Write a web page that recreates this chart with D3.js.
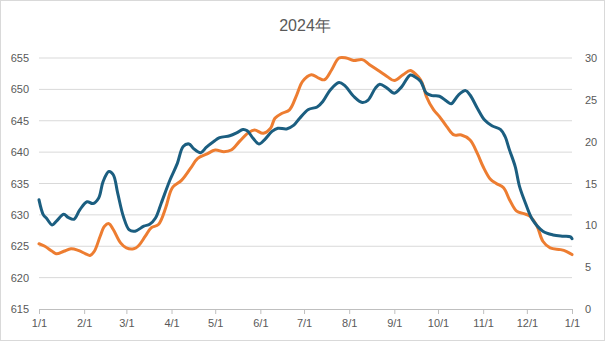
<!DOCTYPE html>
<html><head><meta charset="utf-8">
<script src="https://cdn.jsdelivr.net/npm/d3@7"></script>
<style>body{margin:0;background:#fff}svg{display:block;font-family:"Liberation Sans",Arial,sans-serif}</style>
</head><body><svg id="c" width="606" height="341"></svg>
<script>
const title = "2024年";
const tickLabels = ["1/1","2/1","3/1","4/1","5/1","6/1","7/1","8/1","9/1","10/1","11/1","12/1","1/1"];
const leftTicks = [615,620,625,630,635,640,645,650,655];
const rightTicks = [0,5,10,15,20,25,30];
// day offsets from 2024-01-01
const blueDays = [0,3,5,9,12,17,20,24,28,33,37,41,44,48,51,54,58,62,66,72,76,80,84,90,95,99,103,106,111,115,120,124,131,136,140,143,147,151,155,160,164,170,175,179,185,191,195,200,206,210,216,222,226,231,234,239,244,249,255,258,262,266,270,275,280,283,288,293,296,301,306,311,317,320,323,327,330,334,339,346,353,360,365,366];
const blueValues = [632.4,630.0,629.5,628.4,629.0,630.1,629.6,629.3,630.8,632.1,631.8,632.7,635.3,636.9,636.4,633.5,629.7,627.6,627.4,628.2,628.5,629.5,631.9,635.6,638.2,640.9,641.3,640.6,639.9,640.8,641.7,642.3,642.6,643.1,643.6,643.4,642.2,641.3,642.0,643.3,643.8,643.7,644.3,645.4,646.8,647.2,648.1,649.9,651.1,650.6,648.9,647.9,648.3,650.2,650.8,650.2,649.4,650.4,652.3,652.0,651.3,649.4,649.0,648.9,648.1,647.7,649.1,649.8,649.1,647.0,645.1,644.2,643.6,642.5,640.4,637.7,634.5,631.9,629.2,627.4,626.8,626.6,626.5,626.2];
const orangeDays = [0,4,9,12,17,22,27,32,35,38,42,45,48,51,56,60,65,68,73,77,82,87,90,92,98,104,109,115,121,127,132,138,144,148,154,159,162,167,172,177,181,187,192,196,201,206,211,216,222,227,233,239,244,250,255,259,262,264,266,271,275,280,285,290,296,301,305,310,314,319,323,328,333,337,342,346,351,358,362,366];
const orangeValues = [7.8,7.5,6.9,6.6,6.9,7.2,7.0,6.6,6.4,6.9,8.7,9.9,10.2,9.5,7.9,7.3,7.2,7.5,8.7,9.7,10.1,12.1,13.9,14.6,15.4,16.8,18.0,18.5,19.0,18.8,19.0,20.1,21.1,21.4,21.0,21.6,22.8,23.4,23.8,25.6,27.2,28.0,27.6,27.4,28.6,30.0,30.0,29.7,29.8,29.2,28.5,27.8,27.3,28.0,28.5,28.0,27.4,26.6,25.4,23.8,23.0,21.8,20.8,20.8,20.2,18.6,17.0,15.5,15.0,14.5,13.1,11.7,11.4,11.1,9.9,8.1,7.3,7.1,6.9,6.5];

const svg = d3.select("#c");
const W=606,H=341, L=39, R=572, T=58, B=309;
const start = new Date(2024,0,1), end = new Date(2025,0,1);
const x = d3.scaleTime().domain([start,end]).range([L,R]);
const yL = d3.scaleLinear().domain([615,655]).range([B,T]);
const yR = d3.scaleLinear().domain([0,30]).range([B,T]);
const dayDate = d => d3.timeDay.offset(start, d);
const txt = "#595959";

svg.append("rect").attr("x",0.5).attr("y",0.5).attr("width",W-2).attr("height",H-1).attr("fill","#fff").attr("stroke","#d9d9d9");

svg.append("text").attr("x",305).attr("y",31).attr("text-anchor","middle").attr("font-size",16).attr("fill",txt).text(title);

// gridlines
svg.append("g").selectAll("line").data(leftTicks.filter(v=>v>615)).join("line")
  .attr("x1",L).attr("x2",R).attr("y1",d=>yL(d)).attr("y2",d=>yL(d)).attr("stroke","#d9d9d9").attr("stroke-width",1);

// left axis labels
const gl = svg.append("g").attr("transform",`translate(${L},0)`)
  .call(d3.axisLeft(yL).tickValues(leftTicks).tickSize(0).tickPadding(10));
gl.select(".domain").remove();
gl.selectAll("text").attr("font-size",11).attr("fill",txt).attr("font-family","Liberation Sans, Arial, sans-serif");

const gr = svg.append("g").attr("transform",`translate(${R},0)`)
  .call(d3.axisRight(yR).tickValues(rightTicks).tickSize(0).tickPadding(13));
gr.select(".domain").remove();
gr.selectAll("text").attr("font-size",11).attr("fill",txt).attr("font-family","Liberation Sans, Arial, sans-serif");

// bottom axis
const months = d3.timeMonth.range(start, d3.timeDay.offset(end,1));
const gb = svg.append("g").attr("transform",`translate(0,${B})`)
  .call(d3.axisBottom(x).tickValues(months).tickSize(5).tickPadding(5).tickFormat((d,i)=>tickLabels[i]));
gb.select(".domain").attr("stroke","#bfbfbf").attr("d",`M${L},0.5H${R}`);
gb.selectAll(".tick line").attr("stroke","#bfbfbf");
gb.selectAll("text").attr("font-size",11).attr("fill",txt).attr("font-family","Liberation Sans, Arial, sans-serif");

const lineB = d3.line().x((d,i)=>x(dayDate(blueDays[i]))).y(d=>yL(d)).curve(d3.curveCatmullRom.alpha(0.5));
const lineO = d3.line().x((d,i)=>x(dayDate(orangeDays[i]))).y(d=>yR(d)).curve(d3.curveCatmullRom.alpha(0.5));

svg.append("path").attr("d",lineO(orangeValues)).attr("fill","none").attr("stroke","#ed7d31").attr("stroke-width",3).attr("stroke-linejoin","round").attr("stroke-linecap","round");
svg.append("path").attr("d",lineB(blueValues)).attr("fill","none").attr("stroke","#1b5e80").attr("stroke-width",3).attr("stroke-linejoin","round").attr("stroke-linecap","round");
</script></body></html>
